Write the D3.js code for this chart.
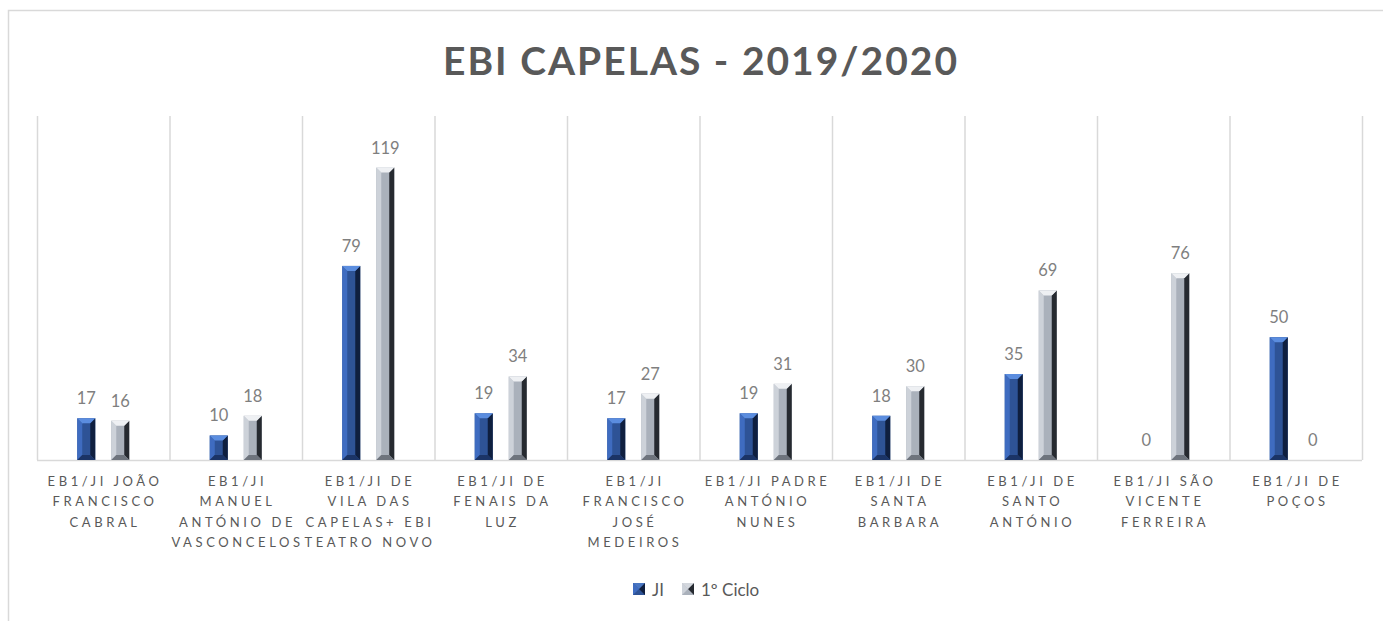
<!DOCTYPE html>
<html lang="pt">
<head>
<meta charset="UTF-8">
<title>EBI CAPELAS - 2019/2020</title>
<script src="https://d3js.org/d3.v7.min.js"></script>
<style>
  body { margin: 0; padding: 0; background: #fff; }
  text { font-family: Lato, "Open Sans", sans-serif; }
</style>
</head>
<body>
<script>
  // data
  const categories = [
    "EB1/JI JOÃO FRANCISCO CABRAL",
    "EB1/JI MANUEL ANTÓNIO DE VASCONCELOS",
    "EB1/JI DE VILA DAS CAPELAS+ EBI TEATRO NOVO",
    "EB1/JI DE FENAIS DA LUZ",
    "EB1/JI FRANCISCO JOSÉ MEDEIROS",
    "EB1/JI PADRE ANTÓNIO NUNES",
    "EB1/JI DE SANTA BARBARA",
    "EB1/JI DE SANTO ANTÓNIO",
    "EB1/JI SÃO VICENTE FERREIRA",
    "EB1/JI DE POÇOS"
  ]
  // tick label lines as wrapped in the original
  const tickLines = [
    ["EB1/JI JOÃO", "FRANCISCO", "CABRAL"],
    ["EB1/JI", "MANUEL", "ANTÓNIO DE", "VASCONCELOS"],
    ["EB1/JI DE", "VILA DAS", "CAPELAS+ EBI", "TEATRO NOVO"],
    ["EB1/JI DE", "FENAIS DA", "LUZ"],
    ["EB1/JI", "FRANCISCO", "JOSÉ", "MEDEIROS"],
    ["EB1/JI PADRE", "ANTÓNIO", "NUNES"],
    ["EB1/JI DE", "SANTA", "BARBARA"],
    ["EB1/JI DE", "SANTO", "ANTÓNIO"],
    ["EB1/JI SÃO", "VICENTE", "FERREIRA"],
    ["EB1/JI DE", "POÇOS"]
  ]
  const series = ["JI", "1º Ciclo"]
  const jiValues = [17, 10, 79, 19, 17, 19, 18, 35, 0, 50]
  const cicloValues = [16, 18, 119, 34, 27, 31, 30, 69, 76, 0]
  const yMax = 140

  const width = 1383
  const height = 621
  const plot = { left: 37, right: 1362, top: 116, bottom: 460 }

  const svg = d3.select("body").append("svg")
    .attr("width", width)
    .attr("height", height)

  // outer chart border (right/bottom edges are off-picture)
  svg.append("path")
    .attr("d", `M8.5,${height + 2} V10.5 H${width + 2}`)
    .attr("fill", "none")
    .attr("stroke", "#d9d9d9")
    .attr("stroke-width", 1.5)

  svg.append("text")
    .attr("x", 700)
    .attr("y", 75)
    .attr("text-anchor", "middle")
    .attr("font-size", 39)
    .attr("font-weight", "bold")
    .attr("fill", "#595959")
    .attr("textLength", 514)
    .attr("lengthAdjust", "spacing")
    .text("EBI CAPELAS - 2019/2020")

  const x = d3.scaleBand().domain(categories).range([plot.left, plot.right]).padding(0)
  const bw = x.bandwidth()
  const x1 = d3.scaleBand().domain(series).range([bw / 2 - 34, bw / 2 + 34]).padding(0)
  const barW = 18
  const y = d3.scaleLinear().domain([0, yMax]).range([plot.bottom, plot.top])

  // vertical category dividers
  const edges = categories.map(c => x(c)).concat([plot.right])
  svg.append("g").selectAll("line").data(edges).join("line")
    .attr("x1", d => d + 0.5).attr("x2", d => d + 0.5)
    .attr("y1", y(yMax)).attr("y2", y(0))
    .attr("stroke", "#d9d9d9").attr("stroke-width", 1.5)

  // baseline
  svg.append("line")
    .attr("x1", plot.left).attr("x2", plot.right)
    .attr("y1", y(0) + 0.5).attr("y2", y(0) + 0.5)
    .attr("stroke", "#d9d9d9").attr("stroke-width", 1.5)

  // bevel palettes
  const styles = {
    "JI": { face: "#2e5396", top: "#5b8ddf", left: "#3f6cc0", right: "#0f1f3f", bottom: "#1b3466" },
    "1º Ciclo": { face: "#aab1bb", top: "#eef0f3", left: "#cdd2d9", right: "#262a30", bottom: "#6e747d" }
  }

  const rows = []
  categories.forEach((c, i) => {
    rows.push({ cat: c, s: "JI", v: jiValues[i] })
    rows.push({ cat: c, s: "1º Ciclo", v: cicloValues[i] })
  })

  const bars = svg.append("g").selectAll("g").data(rows).join("g")

  bars.each(function (d) {
    if (d.v <= 0) return
    const g = d3.select(this)
    const st = styles[d.s]
    const x0 = x(d.cat) + x1(d.s) + (x1.bandwidth() - barW) / 2
    const x2 = x0 + barW
    const y0 = y(d.v)
    const y2 = y(0)
    const b = Math.min(5, (y2 - y0) / 2)
    g.append("rect").attr("x", x0).attr("y", y0).attr("width", barW).attr("height", y2 - y0).attr("fill", st.face)
    g.append("polygon").attr("fill", st.left)
      .attr("points", [[x0, y0], [x0 + b, y0 + b], [x0 + b, y2 - b], [x0, y2]].join(" "))
    g.append("polygon").attr("fill", st.right)
      .attr("points", [[x2, y0], [x2 - b, y0 + b], [x2 - b, y2 - b], [x2, y2]].join(" "))
    g.append("polygon").attr("fill", st.top)
      .attr("points", [[x0, y0], [x2, y0], [x2 - b, y0 + b], [x0 + b, y0 + b]].join(" "))
    g.append("polygon").attr("fill", st.bottom)
      .attr("points", [[x0, y2], [x2, y2], [x2 - b, y2 - b], [x0 + b, y2 - b]].join(" "))
  })

  // value labels
  svg.append("g").selectAll("text").data(rows).join("text")
    .attr("x", d => x(d.cat) + x1(d.s) + x1.bandwidth() / 2)
    .attr("y", d => y(d.v) - 14)
    .attr("text-anchor", "middle")
    .attr("font-size", 16.5)
    .attr("fill", "#7f7f7f")
    .text(d => d.v)

  // category tick labels
  const ticks = svg.append("g").selectAll("text").data(categories).join("text")
    .attr("text-anchor", "middle")
    .attr("font-size", 13)
    .attr("letter-spacing", 3.6)
    .attr("fill", "#595959")
  ticks.each(function (c, i) {
    const t = d3.select(this)
    tickLines[i].forEach((line, k) => {
      t.append("tspan")
        .attr("x", x(c) + bw / 2 + 1.8)
        .attr("y", 486 + k * 20.3)
        .text(line)
    })
  })

  // legend
  const legend = svg.append("g")
  const legX = [633, 682]
  series.forEach((s, i) => {
    const st = styles[s]
    const lx = legX[i], ly = 583, sz = 12, h = sz / 2
    legend.append("rect").attr("x", lx).attr("y", ly).attr("width", sz).attr("height", sz).attr("fill", st.face)
    legend.append("polygon").attr("fill", st.left).attr("points", [[lx, ly], [lx + h, ly + h], [lx, ly + sz]].join(" "))
    legend.append("polygon").attr("fill", st.right).attr("points", [[lx + sz, ly], [lx + h, ly + h], [lx + sz, ly + sz]].join(" "))
    legend.append("polygon").attr("fill", st.top).attr("points", [[lx, ly], [lx + sz, ly], [lx + h, ly + h]].join(" ")).attr("opacity", 0.6)
    legend.append("text")
      .attr("x", lx + 19)
      .attr("y", 595.5)
      .attr("font-size", 17)
      .attr("fill", "#595959")
      .text(s)
  })
</script>
</body>
</html>
